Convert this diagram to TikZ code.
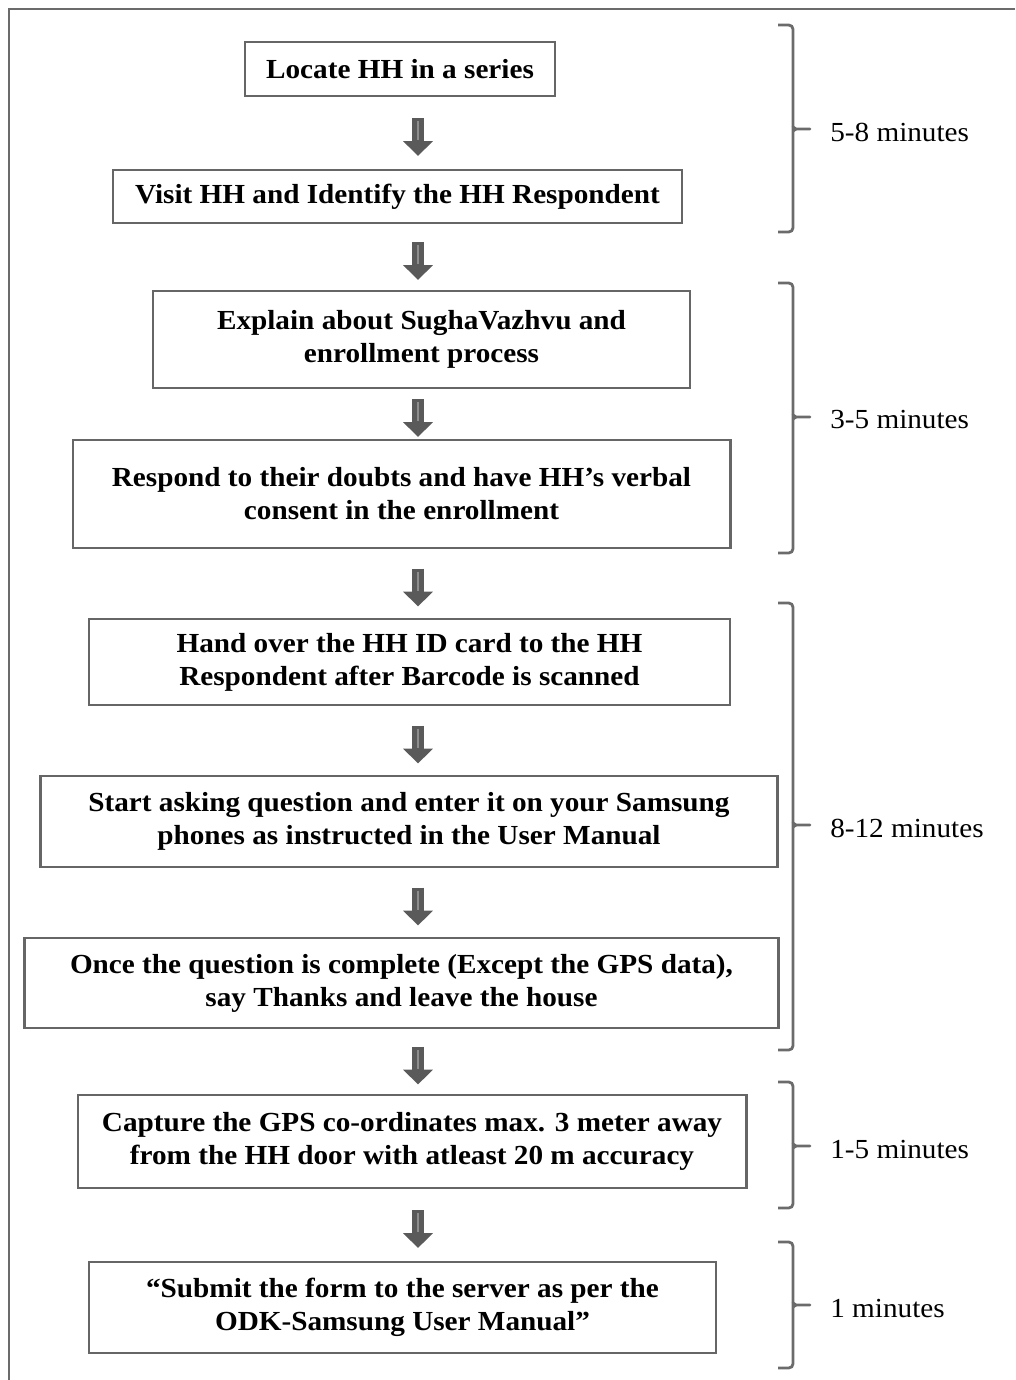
\documentclass[tikz,border=0pt]{standalone}
\usepackage{fontspec}
\setmainfont{Liberation Serif}[FakeStretch=1.06]
\usepackage{tikz}
\usetikzlibrary{arrows.meta,positioning,calc}
\usepackage{xcolor}
\definecolor{framegray}{HTML}{6B6B6B}
\definecolor{boxgray}{HTML}{666666}
\definecolor{arrowgray}{HTML}{5A5A5A}
\definecolor{shinegray}{HTML}{8E8E8E}

\tikzset{
  stepbox/.style={draw=boxgray, line width=2pt, inner sep=0pt, align=center,
    font=\fontsize{19.6}{23.4}\selectfont\bfseries},
  flowarrow/.style={draw=arrowgray, line width=9.2pt,
    -{Triangle[width=20.6pt, length=10.6pt, fill=arrowgray]}},
  arrowshine/.style={draw=shinegray, line width=1.6pt},
  timebrace/.style={draw=framegray, line width=2pt, rounded corners=3pt},
  timelabel/.style={anchor=west, inner sep=0pt, font=\fontsize{19.6}{23.4}\selectfont}
}

\begin{document}
\begin{tikzpicture}[x=0.025cm, y=-0.025cm]
  \useasboundingbox (0,0) rectangle (1015,1380);
  % Outer frame
  \draw[framegray, line width=2pt] (9,1380) -- (9,9) -- (1015,9);
  % Steps
  \node[stepbox, minimum width=7.75cm, minimum height=1.35cm] (s1) at (400,69) {Locate HH in a series};
  \node[stepbox, minimum width=14.225cm, minimum height=1.325cm] (s2) at (397.5,196.5) {Visit HH and Identify the HH Respondent};
  \node[stepbox, minimum width=13.425cm, minimum height=2.425cm] (s3) at (421.5,339.5) {Explain about SughaVazhvu and\\enrollment process};
  \node[stepbox, minimum width=16.425cm, minimum height=2.7cm] (s4) at (401.5,494) {Respond to their doubts and have HH’s verbal\\consent in the enrollment};
  \node[stepbox, minimum width=16.025cm, minimum height=2.15cm] (s5) at (409.5,662) {Hand over the HH ID card to the HH\\Respondent after Barcode is scanned};
  \node[stepbox, minimum width=18.4cm, minimum height=2.275cm] (s6) at (409,821.5) {Start asking question and enter it on your Samsung\\phones as instructed in the User Manual};
  \node[stepbox, minimum width=18.825cm, minimum height=2.25cm] (s7) at (401.5,983) {Once the question is complete (Except the GPS data),\\say Thanks and leave the house};
  \node[stepbox, minimum width=16.7cm, minimum height=2.325cm] (s8) at (412,1141.5) {Capture the GPS co-ordinates max. 3 meter away\\from the HH door with atleast 20 m accuracy};
  \node[stepbox, minimum width=15.675cm, minimum height=2.275cm] (s9) at (402.5,1307.5) {“Submit the form to the server as per the\\ODK-Samsung User Manual”};
  % Block arrows between steps
  \coordinate (axis) at (418,0);
  \foreach \a/\b in {s1/s2,s2/s3,s3/s4,s4/s5,s5/s6,s6/s7,s7/s8,s8/s9} {
    \coordinate (mid) at ($(\a.south -| axis)!0.5!(\b.north -| axis)$);
    \draw[flowarrow] ($(mid)+(0,-15)$) -- ($(mid)+(0,23)$);
    \draw[arrowshine] ($(mid)+(0,-12)$) -- ($(mid)+(0,7)$);
  }
  % Time braces
  \foreach \top/\tip/\bot/\lab [count=\i] in {25/129/232/5-8 minutes, 283/417/553/3-5 minutes,
      603/825/1050/8-12 minutes, 1082/1146/1208/1-5 minutes, 1242/1305/1368/1 minutes} {
    \draw[timebrace] (778,\top) -- (793,\top) -- (793,\bot) -- (778,\bot);
    \draw[framegray, line width=2pt, line cap=round] (793,\tip-2) -- (796,\tip) -- (810,\tip);
    \draw[framegray, line width=2pt] (793,\tip+2) -- (796,\tip);
    \node[timelabel] (t\i) at (830,\tip+3) {\lab};
  }
\end{tikzpicture}
\end{document}
